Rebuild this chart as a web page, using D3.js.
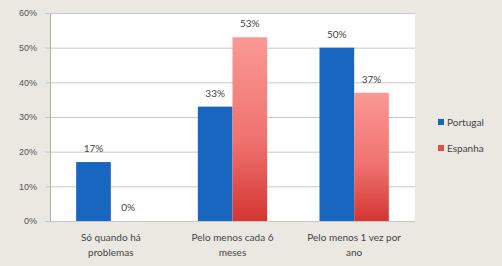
<!DOCTYPE html>
<html>
<head>
<meta charset="utf-8">
<script src="https://cdn.jsdelivr.net/npm/d3@7"></script>
<style>
  html, body { margin: 0; padding: 0; background: #ebe8e2; }
  svg { display: block; font-family: Lato, "Liberation Sans", sans-serif; }
</style>
</head>
<body>
<div id="chart"></div>
<script>
const categories = ["Só quando há|problemas", "Pelo menos cada 6|meses", "Pelo menos 1 vez por|ano"];
const seriesNames = ["Portugal", "Espanha"];
const portugal = [17, 33, 50];
const espanha = [0, 53, 37];
const yTicks = [0, 10, 20, 30, 40, 50, 60];

const width = 502;
const height = 266;
const margin = { top: 13, right: 87, bottom: 45, left: 50 };

const svg = d3.select("#chart")
    .append("svg")
    .attr("width", width)
    .attr("height", height);

const defs = svg.append("defs");
const grad = defs.append("linearGradient")
    .attr("id", "redGrad")
    .attr("x1", 0).attr("y1", 0).attr("x2", 0).attr("y2", 1);
grad.append("stop").attr("offset", "0%").attr("stop-color", "#fb9893");
grad.append("stop").attr("offset", "55%").attr("stop-color", "#f07370");
grad.append("stop").attr("offset", "100%").attr("stop-color", "#d43632");

const colors = ["#1866c0", "url(#redGrad)"];
const legendColors = ["#1866c0", "#e0504c"];

const x0 = d3.scaleBand()
    .domain(categories)
    .range([margin.left, width - margin.right])
    .paddingInner(0.43)
    .paddingOuter(0.215);
const x1 = d3.scaleBand()
    .domain(seriesNames)
    .range([0, x0.bandwidth()]);
const y = d3.scaleLinear()
    .domain([0, 60])
    .range([height - margin.bottom, margin.top]);

// plot area
svg.append("rect")
    .attr("x", margin.left)
    .attr("y", margin.top)
    .attr("width", width - margin.right - margin.left)
    .attr("height", y(0) - margin.top)
    .attr("fill", "#fff");

// grid
svg.append("g")
    .selectAll("line")
    .data(yTicks)
    .enter()
    .append("line")
    .attr("x1", margin.left - 5)
    .attr("x2", width - margin.right)
    .attr("y1", d => y(d) + 0.5)
    .attr("y2", d => y(d) + 0.5)
    .attr("stroke", "#c8c8c8");

const yAxis = d3.axisLeft(y).tickValues(yTicks).tickFormat(d => d + "%").tickSize(0).tickPadding(13);
svg.append("g")
    .attr("transform", `translate(${margin.left},0)`)
    .call(yAxis)
    .call(g => g.select(".domain").attr("stroke", "#b0b0b0"))
    .selectAll("text")
    .attr("fill", "#555")
    .style("font-size", "9px");

const series = [portugal, espanha];
categories.forEach((cat, i) => {
    seriesNames.forEach((s, j) => {
        const v = series[j][i];
        const bx = x0(cat) + x1(s);
        svg.append("rect")
            .attr("x", bx)
            .attr("y", y(v))
            .attr("width", x1.bandwidth())
            .attr("height", y(0) - y(v))
            .attr("fill", colors[j]);
        svg.append("text")
            .attr("x", bx + x1.bandwidth() / 2)
            .attr("y", y(v) - 10)
            .attr("text-anchor", "middle")
            .attr("fill", "#444")
            .style("font-size", "10px")
            .text(v + "%");
    });
});

// x labels
const xl = svg.append("g");
categories.forEach(cat => {
    const lines = cat.split("|");
    const t = xl.append("text")
        .attr("x", x0(cat) + x0.bandwidth() / 2)
        .attr("y", y(0) + 20)
        .attr("text-anchor", "middle")
        .attr("fill", "#444")
        .style("font-size", "10px");
    lines.forEach((l, k) => {
        t.append("tspan")
            .attr("x", x0(cat) + x0.bandwidth() / 2)
            .attr("dy", k === 0 ? 0 : 15)
            .text(l);
    });
});

// legend
const legend = svg.append("g").attr("transform", "translate(438,122)");
seriesNames.forEach((s, j) => {
    const g = legend.append("g").attr("transform", `translate(0,${j * 26})`);
    g.append("rect").attr("x", 0).attr("y", -3).attr("width", 6).attr("height", 6).attr("fill", legendColors[j]);
    g.append("text")
        .attr("x", 9)
        .attr("y", 3.5)
        .attr("fill", "#444")
        .style("font-size", "10px")
        .text(s);
});
</script>
</body>
</html>
